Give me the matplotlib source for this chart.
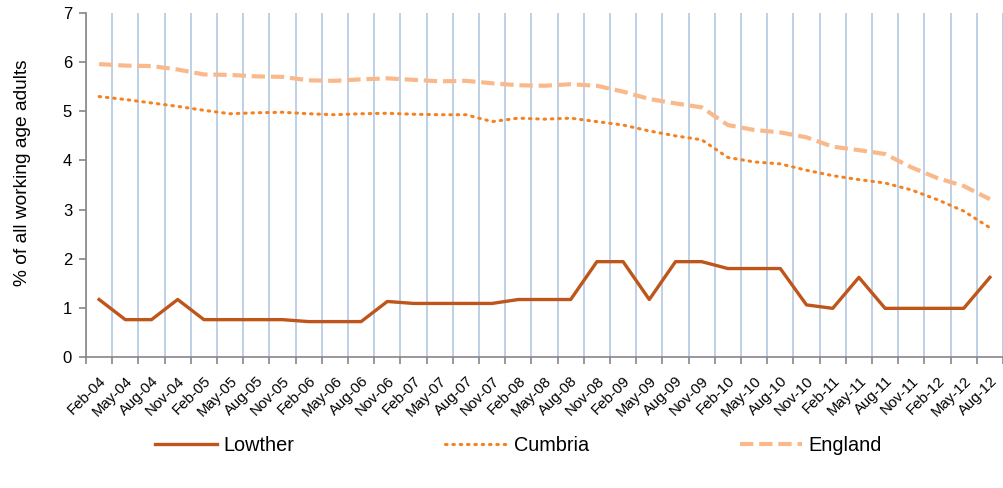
import numpy as np
import matplotlib
matplotlib.use("Agg")
import matplotlib.pyplot as plt

plt.rcParams['font.family'] = ['Liberation Sans', 'DejaVu Sans']

months = ["Feb", "May", "Aug", "Nov"]
categories = []
for yr in range(4, 13):
    for m in months:
        if yr == 12 and m == "Nov":
            continue
        categories.append(f"{m}-{yr:02d}")

lowther = [1.17, 0.76, 0.76, 1.17, 0.76, 0.76, 0.76, 0.76, 0.72, 0.72, 0.72, 1.13,
           1.09, 1.09, 1.09, 1.09, 1.17, 1.17, 1.17, 1.94, 1.94, 1.17, 1.94, 1.94,
           1.80, 1.80, 1.80, 1.06, 0.99, 1.62, 0.99, 0.99, 0.99, 0.99, 1.62]
cumbria = [5.30, 5.24, 5.17, 5.10, 5.02, 4.95, 4.97, 4.98, 4.95, 4.93, 4.95, 4.96,
           4.94, 4.93, 4.93, 4.79, 4.86, 4.84, 4.86, 4.79, 4.72, 4.60, 4.50, 4.42,
           4.06, 3.97, 3.93, 3.80, 3.69, 3.61, 3.54, 3.40, 3.20, 2.97, 2.63]
england = [5.96, 5.93, 5.92, 5.85, 5.75, 5.74, 5.71, 5.70, 5.63, 5.62, 5.65, 5.67,
           5.64, 5.61, 5.62, 5.57, 5.53, 5.52, 5.55, 5.52, 5.40, 5.25, 5.16, 5.08,
           4.72, 4.62, 4.57, 4.47, 4.28, 4.21, 4.13, 3.86, 3.64, 3.48, 3.21]

x = np.arange(len(categories))

fig = plt.figure(figsize=(10.04, 4.88), dpi=100)
ax = fig.add_axes([86/1004, 131/488, 917/1004, 344/488])

ax.plot(x, england, color='#FAB98A', lw=3.0, ls=(0, (3.2, 1.4)), label='England', zorder=3)
ax.plot(x, cumbria, color='#F58220', lw=2.2, ls=(0, (0.5, 1.9)), dash_capstyle='round',
        label='Cumbria', zorder=4)
ax.plot(x, lowther, color='#BE561C', lw=2.4, label='Lowther', zorder=5)

ax.set_xlim(-0.5, len(categories) - 0.5)
ax.set_ylim(0, 7)
ax.set_yticks(range(0, 8))
ax.tick_params(axis='y', labelsize=12, length=5, color='#868686', width=1.2, pad=5)

ax.set_xticks(x)
ax.set_xticklabels(categories, rotation=45, ha='right', rotation_mode='anchor', fontsize=10.8)
ax.tick_params(axis='x', which='major', length=0, pad=12)
ax.set_xticks(np.arange(-0.5, len(categories), 1), minor=True)
ax.tick_params(axis='x', which='minor', length=5, color='#868686', width=1.2)
ax.grid(axis='x', which='minor', color='#B9CDE5', lw=1.3, zorder=0)

for s in ['top', 'right']:
    ax.spines[s].set_visible(False)
for s in ['left', 'bottom']:
    ax.spines[s].set_color('#868686')
    ax.spines[s].set_linewidth(1.2)

ax.set_ylabel('% of all working age adults', fontsize=13.8, va='center')
ax.yaxis.set_label_coords(-63/917, (357 - 173) / 344)

handles, labels = ax.get_legend_handles_labels()
order = [2, 1, 0]
fig.legend([handles[i] for i in order], [labels[i] for i in order],
           loc='center', bbox_to_anchor=(0.5165, 0.088), ncol=3, frameon=False,
           fontsize=14.3, handlelength=3.1, columnspacing=7.6, handletextpad=0.35)

fig.savefig('out.png', dpi=100)
